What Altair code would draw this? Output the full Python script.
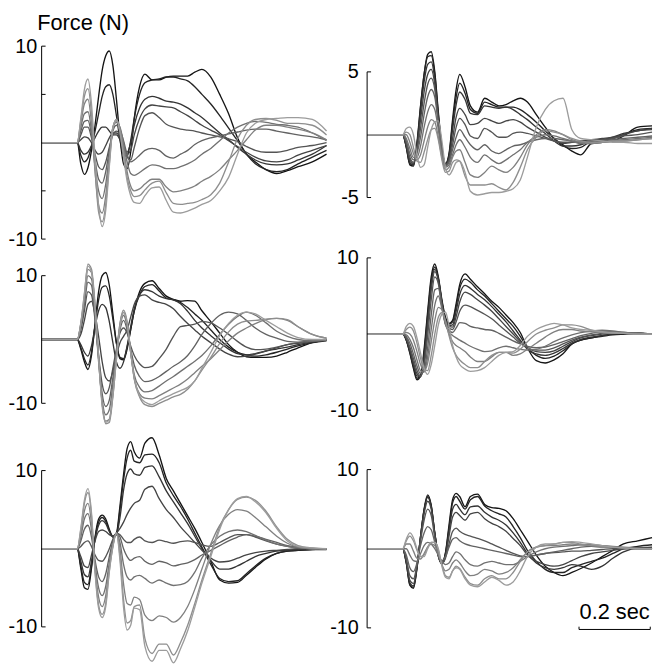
import altair as alt
import pandas as pd

FONT = "Liberation Sans"

# sample times (ms)
T_MS = [0, 100, 110, 120, 130, 140, 150, 160, 170, 180, 190, 200, 210, 220, 230, 240, 250, 260, 275, 290,
        310, 330, 350, 370, 390, 410, 430, 450, 475, 500, 525, 550, 575, 600, 630, 660, 690, 720, 760, 800]

# ---- left, row 1 (N) ----
L1_1 = [0, 0, -2.2, -3.3, -2.6, -0.8, 1.8, 4.8, 7.5, 9.0, 9.5, 8.0, 4.5, 0.5, -2.2, -2.7, -1.0, 2.5, 5.8, 7.1, 6.5, 6.5, 6.8, 6.9, 6.9, 6.9, 7.3, 7.6, 6.8, 5.0, 3.0, 0.5, -1.2, -2.0, -2.8, -3.2, -2.9, -2.5, -2.0, -1.2]
L1_2 = [0, 0, -1.3, -2.0, -1.6, -0.4, 1.2, 3.0, 4.8, 5.8, 6.0, 5.0, 2.8, 0.3, -1.3, -1.4, 0.2, 2.5, 5.0, 6.2, 6.5, 6.6, 6.8, 6.8, 6.6, 6.4, 5.8, 5.0, 4.0, 2.8, 1.5, 0.2, -1.2, -2.2, -2.8, -3.0, -2.8, -2.2, -1.5, -0.8]
L1_3 = [0, 0, -0.8, -1.2, -1.0, -0.3, 0.5, 1.2, 1.6, 1.6, 1.2, 0.8, 0.8, 0.3, -0.5, -1.0, 0.0, 1.8, 3.6, 4.5, 4.8, 4.6, 4.3, 4.2, 4.0, 3.6, 3.1, 2.6, 1.8, 1.0, 0.3, -0.5, -1.2, -1.8, -2.2, -2.3, -2.2, -1.8, -1.2, -0.3]
L1_4 = [0, 0, 0.3, 0.6, 0.5, 0.0, -0.8, -1.2, -1.0, -0.3, 0.5, 1.0, 1.0, 0.5, -0.5, -1.2, -0.8, 0.8, 2.5, 3.5, 3.9, 3.8, 3.7, 3.6, 3.2, 2.8, 2.3, 1.8, 1.3, 0.8, 0.2, -0.4, -1.0, -1.5, -1.9, -2.0, -1.8, -1.3, -0.8, -0.3]
L1_5 = [0, 0, 0.8, 1.6, 1.6, 0.5, -1.2, -2.5, -2.8, -2.0, -0.5, 0.8, 1.2, 0.8, -0.3, -1.5, -1.8, -0.5, 1.5, 2.8, 3.1, 2.6, 1.9, 1.6, 1.4, 1.3, 1.2, 1.0, 0.8, 0.6, 0.4, 0.1, -0.4, -0.8, -1.0, -1.0, -0.8, -0.5, -0.3, 0.0]
L1_6 = [0, 0, 1.2, 2.2, 2.3, 0.8, -1.8, -3.8, -4.2, -3.0, -0.8, 1.2, 1.8, 1.3, 0.2, -1.2, -2.0, -1.8, -1.3, -0.8, -0.6, -0.8, -1.4, -1.6, -1.2, -0.8, -0.2, 0.2, 0.5, 0.7, 0.9, 1.1, 1.3, 1.4, 1.4, 1.2, 1.0, 0.8, 0.6, 0.3]
L1_7 = [0, 0, 1.6, 3.0, 3.2, 1.2, -2.5, -5.0, -5.8, -4.3, -1.3, 1.5, 2.1, 1.6, 0.0, -2.0, -3.2, -3.4, -3.1, -2.7, -2.3, -2.4, -2.7, -2.7, -2.5, -2.2, -1.8, -1.2, -0.6, 0.2, 1.0, 1.6, 2.0, 2.2, 2.1, 1.9, 1.8, 1.6, 1.0, 0.2]
L1_8 = [0, 0, 2.0, 4.0, 4.5, 2.0, -3.0, -6.5, -7.3, -5.5, -1.8, 1.6, 2.3, 1.5, -0.5, -3.0, -4.5, -5.0, -4.8, -4.3, -3.8, -3.8, -4.6, -5.1, -5.0, -4.8, -4.5, -4.0, -3.5, -2.8, -1.8, -0.8, 0.3, 1.3, 1.8, 1.8, 1.6, 1.4, 1.0, 0.3]
L1_9 = [0, 0, 2.3, 4.8, 5.6, 3.0, -2.8, -7.2, -8.2, -6.4, -2.2, 1.5, 2.4, 1.3, -1.0, -3.6, -5.0, -5.6, -5.5, -4.9, -4.2, -4.0, -5.2, -6.3, -6.4, -6.3, -6.2, -5.9, -5.4, -4.2, -2.0, 0.4, 1.8, 2.4, 2.5, 2.3, 2.0, 2.0, 1.8, 0.8]
L1_10 = [0, 0, 2.5, 5.5, 6.6, 4.0, -1.5, -6.5, -8.7, -7.0, -2.5, 1.5, 2.4, 1.0, -1.5, -4.0, -5.5, -6.2, -6.3, -5.5, -4.7, -4.6, -6.0, -7.2, -7.3, -7.1, -6.8, -6.4, -6.0, -5.0, -3.6, -1.2, 1.0, 2.0, 2.4, 2.5, 2.6, 2.6, 2.4, 1.2]

# ---- right, row 1 (N) ----
R1_1 = [0, 0, -1.0, -2.4, -2.5, -0.8, 2.2, 4.8, 6.4, 6.6, 5.0, 1.8, -1.0, -2.3, -1.5, 1.2, 3.6, 4.8, 3.8, 2.3, 1.8, 2.9, 2.6, 2.3, 2.4, 2.7, 2.9, 2.6, 1.6, 0.6, -0.3, -0.8, -1.3, -1.6, -0.7, -0.6, -0.5, -0.1, 0.6, 0.7]
R1_2 = [0, 0, -1.0, -2.3, -2.4, -0.6, 2.3, 4.8, 6.2, 6.3, 4.8, 1.6, -1.1, -2.3, -1.6, 0.9, 3.0, 4.1, 3.3, 2.0, 1.7, 2.6, 2.4, 2.2, 2.2, 2.2, 2.0, 1.6, 1.0, 0.3, -0.3, -0.9, -1.1, -1.0, -0.5, -0.4, -0.3, 0.0, 0.4, 0.5]
R1_3 = [0, 0, -0.9, -2.2, -2.4, -0.8, 1.8, 4.2, 5.6, 5.8, 4.4, 1.4, -1.2, -2.4, -1.7, 0.4, 2.4, 3.4, 2.8, 1.7, 1.6, 2.3, 2.2, 2.1, 2.2, 2.0, 1.6, 1.2, 0.6, 0.1, -0.5, -0.9, -0.9, -0.8, -0.5, -0.4, -0.2, 0.1, 0.3, 0.5]
R1_4 = [0, 0, -0.8, -2.0, -2.3, -1.0, 1.2, 3.4, 4.8, 5.2, 4.0, 1.2, -1.2, -2.4, -1.9, -0.3, 1.4, 2.1, 1.6, 0.8, 0.9, 1.3, 1.1, 0.9, 1.1, 1.2, 1.0, 0.6, 0.2, -0.2, -0.5, -0.7, -0.6, -0.5, -0.4, -0.3, -0.2, 0.0, 0.3, 0.4]
R1_5 = [0, 0, -0.6, -1.8, -2.2, -1.3, 0.5, 2.5, 4.0, 4.5, 3.6, 1.0, -1.3, -2.4, -2.1, -0.8, 0.6, 1.3, 0.8, -0.1, -0.3, 0.5, 0.2, -0.2, -0.2, 0.1, 0.2, 0.1, -0.1, -0.3, -0.5, -0.6, -0.6, -0.6, -0.5, -0.4, -0.3, -0.1, 0.0, 0.2]
R1_6 = [0, 0, -0.5, -1.5, -2.0, -1.5, -0.2, 1.6, 3.0, 3.6, 3.0, 0.8, -1.4, -2.5, -2.2, -1.2, -0.2, 0.4, -0.2, -0.8, -1.2, -0.8, -1.3, -1.5, -1.2, -0.9, -0.8, -0.6, -0.4, -0.3, -0.3, -0.4, -0.5, -0.6, -0.6, -0.5, -0.4, -0.3, -0.2, -0.1]
R1_7 = [0, 0, -0.3, -1.1, -1.8, -1.8, -0.9, 0.6, 1.8, 2.4, 2.0, 0.4, -1.5, -2.6, -2.4, -1.6, -0.8, -0.4, -1.0, -1.8, -2.2, -1.6, -2.0, -2.3, -2.0, -1.6, -1.2, -0.6, -0.2, 0.0, -0.1, -0.3, -0.5, -0.7, -0.7, -0.6, -0.5, -0.4, -0.3, -0.2]
R1_8 = [0, 0, 0.0, -0.6, -1.5, -2.0, -1.6, -0.5, 0.6, 1.2, 1.0, -0.2, -1.8, -2.8, -2.6, -1.8, -1.3, -1.2, -2.2, -3.2, -3.4, -3.0, -2.5, -2.8, -3.0, -2.6, -1.8, -0.8, 0.0, 0.4, 0.3, 0.0, -0.4, -0.6, -0.7, -0.6, -0.5, -0.5, -0.4, -0.3]
R1_9 = [0, 0, 0.2, 0.0, -1.0, -2.1, -2.2, -1.4, -0.4, 0.4, 0.5, -0.4, -2.0, -3.0, -2.9, -2.2, -2.0, -2.1, -3.3, -4.0, -4.0, -4.0, -3.9, -4.2, -4.4, -3.8, -2.6, -1.2, -0.2, 0.3, 0.2, 0.0, -0.3, -0.5, -0.6, -0.6, -0.5, -0.5, -0.4, -0.3]
R1_10 = [0, 0, 0.5, 0.6, 0.0, -1.6, -2.6, -2.4, -1.0, 0.4, 1.0, 1.1, -0.5, -2.6, -3.2, -2.8, -2.2, -2.1, -3.0, -4.5, -4.8, -4.7, -4.6, -4.6, -4.5, -4.3, -3.6, -1.8, 0.6, 2.0, 2.7, 2.9, 0.4, -0.3, -0.4, -0.5, -0.6, -0.6, -0.7, -0.7]

# ---- left, row 2 (N) ----
L2_1 = [0, 0, -1.5, -3.5, -4.7, -2.5, 2.5, 7.5, 10.0, 10.5, 8.5, 4.0, -0.5, -3.0, -3.2, -1.5, 1.5, 4.5, 7.5, 8.8, 9.2, 8.0, 6.8, 6.3, 6.0, 6.1, 6.0, 4.5, 2.8, 1.0, -0.8, -2.0, -2.7, -2.8, -2.8, -2.6, -2.0, -1.3, -0.5, 0.0]
L2_2 = [0, 0, -1.3, -3.0, -4.0, -2.0, 2.2, 6.2, 8.2, 8.4, 6.8, 3.2, -0.6, -2.8, -3.0, -1.2, 1.6, 4.4, 7.0, 8.3, 8.6, 7.6, 6.5, 6.2, 5.8, 5.0, 4.0, 3.0, 1.5, 0.0, -1.2, -2.0, -2.4, -2.6, -2.4, -2.0, -1.5, -1.0, -0.5, -0.2]
L2_3 = [0, 0, -0.8, -2.0, -2.6, -1.0, 2.0, 4.5, 5.5, 5.0, 2.8, -0.5, -3.5, -4.5, -3.5, -1.0, 2.0, 4.8, 7.0, 7.8, 7.5, 6.8, 6.4, 6.2, 5.6, 4.4, 3.0, 1.8, 0.6, -0.5, -1.5, -2.2, -2.4, -2.2, -1.8, -1.5, -1.2, -0.8, -0.4, -0.1]
L2_4 = [0, 0, 0.8, 3.0, 5.5, 6.0, 4.0, 0.5, -3.5, -6.0, -6.5, -5.0, -2.5, -0.5, 0.5, 1.5, 3.5, 5.5, 6.8, 7.0, 6.2, 5.8, 5.5, 4.8, 3.6, 2.5, 1.5, 0.5, -0.5, -1.5, -2.3, -2.7, -2.6, -2.3, -1.8, -1.3, -0.8, -0.6, -0.3, 0.0]
L2_5 = [0, 0, 1.5, 4.5, 7.5, 7.0, 3.0, -2.5, -7.0, -8.5, -7.5, -4.5, -1.5, 1.0, 1.8, 1.0, -1.0, -2.5, -3.8, -4.4, -4.2, -3.0, -1.5, 0.5, 2.0, 2.2, 2.4, 2.8, 2.6, 1.8, 0.8, -0.3, -1.2, -1.6, -1.5, -1.2, -0.8, -0.5, -0.2, 0.0]
L2_6 = [0, 0, 2.0, 5.5, 9.0, 8.5, 3.5, -3.0, -8.5, -10.5, -9.5, -6.0, -2.0, 1.5, 3.0, 1.5, -1.5, -4.0, -5.8, -6.6, -6.4, -5.8, -5.0, -4.2, -3.5, -2.5, -1.0, 0.8, 2.5, 3.8, 4.3, 4.0, 3.0, 1.8, 0.8, 0.2, -0.3, -0.4, -0.3, -0.1]
L2_7 = [0, 0, 2.2, 6.0, 10.0, 9.5, 4.0, -3.5, -9.5, -11.8, -11.0, -7.0, -2.0, 2.0, 3.8, 2.0, -2.0, -5.5, -7.5, -8.2, -8.0, -7.3, -6.5, -5.8, -5.0, -4.2, -3.4, -2.5, -1.0, 0.8, 2.4, 3.6, 4.3, 3.8, 2.6, 1.3, 0.5, 0.0, -0.2, -0.1]
L2_8 = [0, 0, 2.4, 6.5, 11.0, 10.5, 5.0, -3.0, -10.0, -12.8, -12.5, -8.5, -2.5, 2.5, 4.3, 2.5, -2.0, -6.0, -8.5, -9.2, -9.3, -8.8, -8.2, -7.6, -7.0, -6.2, -5.2, -4.2, -3.0, -1.6, -0.2, 1.0, 1.8, 2.5, 3.1, 3.3, 3.0, 2.0, 0.8, 0.2]
L2_9 = [0, 0, 2.5, 7.0, 11.8, 11.0, 5.5, -2.5, -10.0, -13.2, -13.0, -9.0, -3.0, 2.5, 4.6, 2.8, -1.8, -6.2, -9.0, -10.2, -10.5, -10.0, -9.5, -9.0, -8.6, -7.8, -6.5, -4.8, -2.8, -0.6, 1.2, 2.4, 2.9, 3.0, 3.2, 3.3, 3.1, 2.0, 0.8, 0.2]
L2_10 = [0, 0, 2.6, 7.2, 11.5, 10.6, 5.0, -3.0, -10.5, -13.0, -12.6, -8.8, -3.2, 2.0, 4.2, 2.6, -2.0, -6.0, -8.8, -9.8, -10.2, -9.6, -9.0, -8.5, -8.0, -7.5, -6.5, -4.5, -2.0, 0.6, 2.5, 3.8, 4.3, 4.0, 3.0, 2.0, 1.0, 0.3, 0.0, 0.0]

# ---- right, row 2 (N) ----
R2_1 = [0, 0, -0.8, -2.5, -4.5, -6.0, -5.5, -2.0, 3.0, 7.5, 9.2, 7.5, 4.5, 2.2, 1.4, 1.8, 4.0, 6.5, 7.9, 7.2, 6.2, 5.3, 4.3, 3.5, 2.5, 1.5, 0.2, -1.8, -3.5, -3.8, -3.4, -2.6, -1.3, -0.8, -0.5, -0.2, 0.0, 0.0, 0.1, 0.0]
R2_2 = [0, 0, -0.8, -2.4, -4.3, -5.8, -5.5, -2.5, 2.5, 7.0, 8.8, 7.3, 4.3, 2.0, 1.3, 1.6, 3.6, 6.0, 7.2, 6.8, 5.8, 5.0, 4.0, 3.0, 2.0, 1.0, -0.3, -1.8, -2.8, -3.2, -2.9, -2.2, -1.3, -0.8, -0.5, -0.3, -0.1, 0.0, 0.1, 0.0]
R2_3 = [0, 0, -0.7, -2.2, -4.0, -5.5, -5.6, -3.0, 1.8, 6.5, 8.5, 7.2, 4.2, 1.8, 1.1, 1.2, 3.0, 5.2, 6.4, 6.0, 5.2, 4.5, 3.6, 2.6, 1.6, 0.4, -0.8, -2.0, -2.6, -2.8, -2.5, -1.9, -1.2, -0.7, -0.4, -0.2, 0.0, 0.1, 0.0, 0.0]
R2_4 = [0, 0, -0.6, -2.0, -3.7, -5.2, -5.6, -3.6, 1.0, 5.8, 8.2, 7.0, 4.0, 1.6, 1.0, 0.9, 2.3, 4.2, 5.5, 5.2, 4.5, 3.8, 3.0, 2.0, 1.0, 0.0, -1.0, -1.8, -2.3, -2.4, -2.2, -1.6, -1.0, -0.5, -0.2, 0.0, 0.1, 0.1, 0.0, 0.0]
R2_5 = [0, 0, -0.5, -1.7, -3.2, -4.8, -5.5, -4.2, -0.2, 4.5, 7.5, 6.6, 3.8, 1.4, 0.8, 0.6, 1.6, 3.0, 3.8, 3.6, 3.1, 2.6, 2.0, 1.2, 0.4, -0.4, -1.2, -1.8, -2.1, -2.1, -1.8, -1.3, -0.8, -0.4, -0.1, 0.1, 0.2, 0.2, 0.1, 0.0]
R2_6 = [0, 0, -0.3, -1.2, -2.6, -4.2, -5.2, -4.8, -1.8, 2.5, 5.8, 6.0, 3.6, 1.3, 0.5, 0.2, 0.8, 1.5, 1.4, 1.0, 0.8, 0.6, 0.5, 0.1, -0.4, -0.9, -1.3, -1.6, -1.8, -1.7, -1.4, -1.0, -0.6, -0.2, 0.1, 0.3, 0.3, 0.2, 0.1, 0.0]
R2_7 = [0, 0, -0.1, -0.7, -1.8, -3.4, -4.8, -5.0, -3.0, 0.6, 3.8, 5.0, 3.3, 1.2, 0.3, -0.2, -0.5, -0.8, -1.2, -1.6, -2.0, -2.3, -2.2, -1.8, -1.6, -1.8, -2.0, -2.1, -2.0, -1.6, -1.0, -0.5, -0.1, 0.2, 0.4, 0.5, 0.4, 0.2, 0.1, 0.0]
R2_8 = [0, 0, 0.2, 0.0, -0.8, -2.3, -4.0, -4.8, -3.8, -1.0, 1.8, 3.5, 3.2, 1.5, 0.0, -1.0, -1.5, -1.8, -2.3, -3.0, -3.6, -3.6, -3.0, -2.4, -2.4, -2.8, -2.6, -2.0, -1.2, -0.4, 0.3, 0.6, 0.6, 0.4, 0.3, 0.2, 0.1, 0.1, 0.0, 0.0]
R2_9 = [0, 0, 0.6, 0.9, 0.4, -1.2, -3.2, -4.6, -4.8, -2.8, 0.0, 2.2, 2.8, 1.8, -0.2, -1.8, -2.8, -3.4, -4.0, -4.4, -4.4, -3.6, -2.8, -2.4, -2.4, -2.5, -2.0, -1.0, 0.0, 0.5, 0.8, 1.2, 1.2, 1.0, 0.5, 0.2, 0.1, 0.1, 0.0, 0.0]
R2_10 = [0, 0, 1.0, 1.4, 1.0, -0.5, -2.5, -4.5, -5.3, -4.0, -1.5, 1.2, 2.6, 2.9, 1.0, -1.5, -3.0, -4.0, -4.6, -4.9, -4.8, -4.4, -3.6, -2.8, -2.4, -2.3, -1.5, -0.3, 0.6, 1.1, 1.4, 1.2, 0.8, 0.6, 0.5, 0.3, 0.2, 0.1, 0.0, 0.0]

# ---- left, row 3 (N) ----
L3_1 = [0, 0, -2.5, -5.0, -5.2, -2.5, 1.5, 3.8, 4.3, 3.8, 2.5, 1.6, 2.0, 5.5, 9.5, 12.8, 13.7, 12.4, 11.6, 13.5, 14.2, 12.0, 9.0, 7.4, 5.8, 4.2, 2.6, 0.8, -1.6, -4.0, -4.4, -4.3, -3.4, -2.4, -1.3, -0.6, -0.3, -0.2, -0.1, -0.1]
L3_2 = [0, 0, -2.2, -4.3, -4.6, -2.2, 1.3, 3.4, 4.0, 3.5, 2.3, 1.5, 1.8, 5.0, 8.8, 11.6, 12.6, 11.2, 11.0, 12.0, 12.1, 11.0, 8.4, 6.8, 5.4, 3.8, 2.0, 0.2, -2.0, -3.8, -4.2, -4.1, -3.2, -2.2, -1.2, -0.6, -0.3, -0.2, -0.1, 0.0]
L3_3 = [0, 0, -1.6, -3.3, -3.6, -1.6, 1.2, 3.0, 3.6, 3.2, 2.2, 1.5, 1.8, 4.0, 7.5, 9.6, 10.2, 9.6, 9.4, 10.4, 10.6, 9.2, 7.4, 6.0, 4.6, 3.2, 1.6, 0.0, -1.5, -2.6, -2.6, -2.2, -1.6, -1.0, -0.6, -0.3, -0.2, -0.1, 0.0, 0.0]
L3_4 = [0, 0, -1.0, -2.2, -2.4, -0.8, 1.0, 2.2, 2.4, 2.2, 1.8, 1.6, 2.0, 2.6, 3.4, 4.4, 5.2, 5.8, 6.2, 7.6, 8.0, 6.4, 5.0, 4.0, 2.8, 1.8, 0.8, -0.2, -1.2, -1.7, -1.6, -1.2, -0.8, -0.5, -0.3, -0.2, -0.1, 0.0, 0.0, 0.0]
L3_5 = [0, 0, 0.3, 0.8, 1.0, 0.3, -0.8, -1.5, -1.6, -1.0, 0.0, 1.2, 2.0, 1.8, 1.2, 0.8, 0.8, 1.2, 1.5, 1.0, 0.8, 1.1, 0.9, 0.7, 0.9, 1.0, 0.8, 0.5, 0.3, 0.8, 1.4, 1.8, 1.8, 1.5, 1.0, 0.6, 0.3, 0.1, 0.0, 0.0]
L3_6 = [0, 0, 1.0, 2.5, 3.0, 1.5, -1.5, -3.6, -4.2, -3.2, -1.0, 1.0, 2.0, 1.5, 0.0, -1.0, -1.5, -1.2, -1.0, -1.6, -2.0, -1.6, -1.8, -2.2, -2.0, -1.8, -1.4, -0.8, -0.2, 0.4, 1.0, 1.5, 1.8, 1.6, 1.2, 0.8, 0.4, 0.2, 0.0, 0.0]
L3_7 = [0, 0, 1.5, 3.8, 4.5, 2.4, -2.0, -5.0, -6.0, -4.8, -1.8, 0.6, 2.0, 0.8, -2.0, -3.6, -4.0, -3.6, -3.4, -3.8, -4.4, -4.0, -4.4, -4.7, -4.6, -4.2, -3.0, -1.2, 0.5, 1.6, 2.2, 2.4, 2.2, 1.7, 1.1, 0.6, 0.3, 0.1, 0.0, 0.0]
L3_8 = [0, 0, 2.0, 4.8, 5.8, 3.2, -2.5, -6.2, -7.4, -6.0, -2.4, 0.4, 2.0, 0.0, -4.5, -7.0, -7.2, -6.2, -6.5, -8.5, -9.2, -8.6, -8.8, -9.4, -8.8, -7.4, -5.2, -2.6, 0.6, 3.0, 4.4, 5.0, 4.8, 4.0, 2.8, 1.6, 0.7, 0.2, 0.0, 0.0]
L3_9 = [0, 0, 2.4, 5.8, 7.2, 4.2, -2.8, -7.2, -8.4, -7.0, -2.8, 0.3, 2.0, -1.0, -6.5, -9.5, -9.2, -7.4, -7.2, -11.5, -13.4, -12.2, -12.2, -13.6, -12.0, -9.8, -7.0, -4.0, -0.6, 2.8, 5.0, 6.3, 6.6, 6.2, 4.8, 2.8, 1.2, 0.4, 0.1, 0.0]
L3_10 = [0, 0, 2.6, 6.2, 7.7, 4.6, -3.0, -7.6, -8.8, -7.4, -3.0, 0.2, 2.0, -1.5, -7.5, -10.4, -9.8, -7.6, -7.8, -12.5, -14.4, -13.0, -13.0, -14.6, -12.8, -10.5, -7.5, -4.4, -1.0, 2.5, 5.0, 6.4, 6.7, 6.0, 4.6, 2.6, 1.0, 0.3, 0.1, 0.0]

# ---- right, row 3 (N) ----
R3_1 = [0, 0, -1.8, -4.6, -5.0, -2.5, 1.5, 5.0, 6.8, 5.5, 2.0, -0.8, -1.8, -0.5, 3.0, 6.2, 7.0, 6.6, 5.3, 6.6, 6.9, 5.6, 5.2, 5.1, 4.8, 3.8, 2.4, 1.0, -0.8, -2.2, -3.0, -3.4, -3.0, -2.5, -1.8, -1.0, -0.2, 0.6, 1.0, 1.4]
R3_2 = [0, 0, -1.8, -4.5, -4.9, -2.4, 1.5, 4.9, 6.6, 5.4, 2.0, -0.8, -1.8, -0.6, 2.6, 5.8, 6.6, 6.0, 5.0, 6.2, 6.6, 5.4, 4.8, 4.4, 4.0, 2.8, 1.4, -0.2, -1.6, -2.6, -3.0, -3.0, -2.4, -2.0, -1.6, -1.2, -0.6, 0.0, 0.3, 0.5]
R3_3 = [0, 0, -1.7, -4.3, -4.7, -2.3, 1.5, 4.8, 6.5, 5.3, 1.9, -0.9, -1.9, -0.8, 2.2, 5.0, 5.6, 5.0, 4.3, 5.3, 5.4, 4.6, 4.0, 3.6, 3.0, 2.0, 0.8, -0.6, -1.8, -2.4, -2.6, -2.4, -2.0, -2.2, -2.6, -2.2, -1.2, -0.4, 0.1, 0.2]
R3_4 = [0, 0, -1.5, -4.0, -4.4, -2.2, 1.3, 4.4, 6.0, 5.0, 1.8, -0.9, -1.9, -1.0, 1.6, 4.0, 4.6, 4.2, 3.6, 4.4, 4.6, 3.8, 3.2, 2.8, 2.2, 1.3, 0.4, -0.8, -1.6, -2.0, -2.2, -2.0, -1.5, -1.0, -0.6, -0.4, -0.2, 0.0, 0.1, 0.1]
R3_5 = [0, 0, -1.2, -3.4, -3.8, -2.0, 1.0, 3.6, 5.0, 4.2, 1.4, -1.0, -1.8, -1.2, 0.6, 2.2, 2.6, 2.2, 1.8, 1.6, 1.3, 1.0, 0.6, 0.2, -0.2, -0.6, -0.9, -1.0, -0.8, -0.6, -0.5, -0.4, -0.3, -0.3, -0.2, -0.1, 0.0, 0.0, 0.0, 0.0]
R3_6 = [0, 0, -0.8, -2.4, -2.9, -1.8, 0.4, 2.0, 2.8, 2.4, 0.8, -0.8, -1.5, -1.0, 0.2, 1.2, 1.4, 1.0, 0.6, 0.4, 0.2, 0.0, -0.2, -0.4, -0.6, -0.8, -1.0, -1.0, -0.8, -0.6, -0.4, -0.2, 0.0, 0.2, 0.3, 0.2, 0.2, 0.1, 0.0, 0.0]
R3_7 = [0, 0, 0.0, -0.8, -1.5, -1.6, -0.6, 0.4, 0.8, 0.6, 0.0, -0.8, -1.6, -2.0, -1.8, -1.0, -0.4, -0.6, -1.4, -2.0, -2.2, -1.8, -1.6, -1.8, -2.0, -2.0, -1.6, -1.0, -0.4, 0.0, 0.2, 0.3, 0.4, 0.5, 0.5, 0.4, 0.3, 0.2, 0.1, 0.0]
R3_8 = [0, 0, 0.6, 0.6, -0.3, -1.2, -1.3, -0.6, 0.2, 0.6, 0.4, -0.6, -2.0, -2.8, -2.6, -1.8, -1.4, -1.8, -2.8, -3.4, -3.2, -2.6, -2.8, -3.2, -3.0, -2.4, -1.4, -0.4, 0.2, 0.4, 0.4, 0.5, 0.6, 0.5, 0.4, 0.3, 0.2, 0.1, 0.0, 0.0]
R3_9 = [0, 0, 1.0, 1.6, 1.0, -0.2, -1.0, -0.8, 0.2, 0.8, 0.8, -0.2, -2.0, -3.4, -3.6, -2.8, -2.2, -2.5, -3.6, -4.4, -4.6, -3.8, -3.4, -3.8, -3.8, -3.0, -1.6, -0.4, 0.2, 0.4, 0.6, 0.8, 0.8, 0.6, 0.4, 0.3, 0.2, 0.1, 0.0, 0.0]
R3_10 = [0, 0, 1.2, 2.0, 1.4, 0.0, -1.0, -1.0, 0.0, 0.8, 0.8, 0.0, -2.2, -3.6, -3.8, -2.8, -2.4, -2.6, -3.8, -4.6, -4.8, -4.2, -3.6, -4.0, -4.6, -4.2, -2.8, -1.0, 0.2, 0.6, 0.6, 0.8, 0.9, 0.8, 0.6, 0.4, 0.2, 0.1, 0.0, 0.0]

GRAYS = ["#141414", "#242424", "#343434", "#444444", "#545454", "#626262", "#717171", "#808080", "#8e8e8e", "#9c9c9c"]

SCALEBAR_T = [0.595, 0.795]      # seconds (0.2 s bar)
SCALEBAR_F = -10.2
SCALEBAR_TEXT_F = -8.85
SCALEBAR_LABEL = "0.2 sec"

LABEL_EXPR = "datum.value < 0 ? '-' + format(-datum.value, 'd') : format(datum.value, 'd')"

PANEL_W = 288
COL_GAP = 43


def panel(traces, slot_top, slot_h, px_hi, px_lo, v_hi, v_lo, ticks, label_pad,
          title=None, scalebar=False):
    k = (px_lo - px_hi) / (v_hi - v_lo)
    dom = [v_lo - (slot_top + slot_h - px_lo) / k, v_hi + (px_hi - slot_top) / k]
    names = [f"s{i}" for i in range(len(traces))]
    rows = [{"t": t / 1000.0, "f": v, "trace": names[i]}
            for i, vals in enumerate(traces) for t, v in zip(T_MS, vals)]
    df = pd.DataFrame(rows)

    x = alt.X("t:Q", scale=alt.Scale(domain=[0, 0.8], nice=False, zero=False), axis=None)
    ax = dict(domain=False, ticks=False, grid=False, values=[v_hi, v_lo],
              labelFont=FONT, labelFontSize=20, labelColor="black",
              labelPadding=label_pad, labelExpr=LABEL_EXPR,
              labelFlush=False, labelOverlap=False)
    if title:
        ax.update(titleAngle=0, titleAlign="left", titleBaseline="alphabetic",
                  titleX=-5, titleY=-17, titleFont=FONT, titleFontSize=22,
                  titleFontWeight="normal", titleColor="black")
    y = alt.Y("f:Q", scale=alt.Scale(domain=dom, nice=False, zero=False),
              axis=alt.Axis(**ax), title=title)

    lines = alt.Chart(df).mark_line(strokeWidth=1.35, interpolate="monotone", clip=False).encode(
        x=x, y=y,
        color=alt.Color("trace:N", scale=alt.Scale(domain=names, range=GRAYS), legend=None))
    spine = alt.Chart(pd.DataFrame({"f": [v_lo], "f2": [v_hi]})).mark_rule(
        color="black", strokeWidth=1).encode(x=alt.value(0), y=y, y2="f2:Q")
    tk = alt.Chart(pd.DataFrame({"f": ticks})).mark_rule(
        color="black", strokeWidth=1).encode(x=alt.value(0), x2=alt.value(4), y=y)
    layers = [lines, spine, tk]

    if scalebar:
        bar = alt.Chart(pd.DataFrame({"t": [SCALEBAR_T[0]], "t2": [SCALEBAR_T[1]], "f": [SCALEBAR_F]})).mark_rule(
            color="black", strokeWidth=1).encode(x=x, x2="t2:Q", y=y)
        ends = alt.Chart(pd.DataFrame({"t": SCALEBAR_T, "f": [SCALEBAR_F] * 2,
                                       "f2": [SCALEBAR_F + 0.35] * 2})).mark_rule(
            color="black", strokeWidth=1).encode(x=x, y=y, y2="f2:Q")
        txt = alt.Chart(pd.DataFrame({"t": [sum(SCALEBAR_T) / 2], "f": [SCALEBAR_TEXT_F],
                                      "label": [SCALEBAR_LABEL]})).mark_text(
            font=FONT, fontSize=22, baseline="alphabetic", align="center", color="black").encode(
            x=x, y=y, text="label:N")
        layers += [bar, ends, txt]

    return alt.layer(*layers).properties(width=PANEL_W, height=slot_h)


L1c = panel([L1_1, L1_2, L1_3, L1_4, L1_5, L1_6, L1_7, L1_8, L1_9, L1_10],
            43, 213, 43, 238, 10, -10, [10, 5, -5, -10], 5, title="Force (N)")
L2c = panel([L2_1, L2_2, L2_3, L2_4, L2_5, L2_6, L2_7, L2_8, L2_9, L2_10],
            256, 184, 275, 404, 10, -10, [10, -10], 5)
L3c = panel([L3_1, L3_2, L3_3, L3_4, L3_5, L3_6, L3_7, L3_8, L3_9, L3_10],
            440, 200, 472, 630, 10, -10, [10, -10], 5)
R1c = panel([R1_1, R1_2, R1_3, R1_4, R1_5, R1_6, R1_7, R1_8, R1_9, R1_10],
            43, 213, 69, 196, 5, -5, [5, -5], 9)
R2c = panel([R2_1, R2_2, R2_3, R2_4, R2_5, R2_6, R2_7, R2_8, R2_9, R2_10],
            256, 184, 257, 411, 10, -10, [10, -10], 9)
R3c = panel([R3_1, R3_2, R3_3, R3_4, R3_5, R3_6, R3_7, R3_8, R3_9, R3_10],
            440, 200, 471, 631, 10, -10, [10, -10], 9, scalebar=True)

left = alt.vconcat(L1c, L2c, L3c, spacing=0, bounds="flush").resolve_scale(x="independent", y="independent")
right = alt.vconcat(R1c, R2c, R3c, spacing=0, bounds="flush").resolve_scale(x="independent", y="independent")

# with flush bounds the nested column has no own width, so the gap spans the left panel width too
chart = alt.hconcat(left, right, spacing=PANEL_W + COL_GAP - 2, bounds="flush").resolve_scale(
    x="independent", y="independent").properties(padding=0).configure(font=FONT).configure_view(strokeWidth=0)

chart.save("out.html", embed_options={"renderer": "svg", "actions": False})
